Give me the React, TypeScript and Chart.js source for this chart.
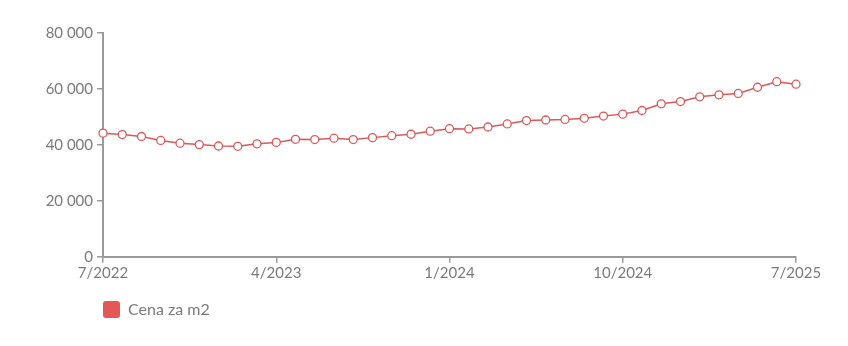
import React, { useEffect, useRef } from "react";
import { Chart, registerables } from "chart.js";

Chart.register(...registerables);

const months: string[] = [
  "7/2022", "8/2022", "9/2022", "10/2022", "11/2022", "12/2022",
  "1/2023", "2/2023", "3/2023", "4/2023", "5/2023", "6/2023",
  "7/2023", "8/2023", "9/2023", "10/2023", "11/2023", "12/2023",
  "1/2024", "2/2024", "3/2024", "4/2024", "5/2024", "6/2024",
  "7/2024", "8/2024", "9/2024", "10/2024", "11/2024", "12/2024",
  "1/2025", "2/2025", "3/2025", "4/2025", "5/2025", "6/2025",
  "7/2025",
];

const pricePerM2: number[] = [
  44200, 43700, 43000, 41600, 40600, 40100,
  39600, 39500, 40400, 40900, 42000, 41900,
  42400, 41900, 42600, 43300, 43800, 44900,
  45800, 45700, 46400, 47500, 48700, 48900,
  49100, 49500, 50300, 51000, 52300, 54700,
  55500, 57200, 57900, 58400, 60600, 62600,
  61700,
];

const seriesLabel = "Cena za m2";
const yTicks: number[] = [0, 20000, 40000, 60000, 80000];

const LINE = "#d9595a";
const AXIS = "#9a9a9a";
const TEXT = "#7a7a7a";
const FONT = "Lato, 'Open Sans', sans-serif";

function fmt(v: number): string {
  return String(Math.round(v)).replace(/\B(?=(\d{3})+(?!\d))/g, " ");
}

export default function App() {
  const ref = useRef<HTMLCanvasElement | null>(null);
  useEffect(() => {
    if (!ref.current) return;
    const chart = new Chart(ref.current, {
      type: "line",
      data: {
        labels: months,
        datasets: [
          {
            label: seriesLabel,
            data: pricePerM2,
            borderColor: LINE,
            backgroundColor: "#e45757",
            borderWidth: 1.5,
            pointRadius: 4,
            pointBorderWidth: 1.3,
            pointBackgroundColor: "#ffffff",
            pointBorderColor: LINE,
            tension: 0,
          },
        ],
      },
      options: {
        responsive: false,
        animation: false,
        layout: { padding: { top: 25, right: 44, left: 0, bottom: 0 } },
        plugins: {
          tooltip: { enabled: false },
          legend: {
            position: "bottom",
            align: "start",
            fullSize: false,
            title: {
              display: true,
              text: "",
              font: { size: 1 },
              padding: { top: 17, bottom: 0 },
            },
            labels: {
              boxWidth: 17,
              boxHeight: 17,
              useBorderRadius: true,
              borderRadius: 3,
              padding: 0,
              color: TEXT,
              font: { family: FONT, size: 16 },
              generateLabels: () => [
                {
                  text: seriesLabel,
                  fillStyle: "#e45757",
                  strokeStyle: "#e45757",
                  lineWidth: 0,
                  fontColor: TEXT,
                  borderRadius: 3,
                  datasetIndex: 0,
                } as any,
              ],
            },
          },
        },
        scales: {
          x: {
            type: "category",
            offset: false,
            border: { display: true, color: AXIS, width: 2 },
            grid: {
              drawOnChartArea: false,
              drawTicks: true,
              tickLength: 6,
              lineWidth: 1.5,
              color: (ctx: any) => (ctx.index % 9 === 0 ? AXIS : "rgba(0,0,0,0)"),
            },
            ticks: {
              autoSkip: false,
              maxRotation: 0,
              color: TEXT,
              padding: 1,
              font: { family: FONT, size: 15 },
              callback: (_v: any, i: number) => (i % 9 === 0 ? months[i] : ""),
            },
          },
          y: {
            min: 0,
            max: 80000,
            afterFit: (s: any) => {
              s.width = 95;
            },
            afterBuildTicks: (s: any) => {
              s.ticks = yTicks.map((v) => ({ value: v }));
            },
            border: { display: true, color: AXIS, width: 2 },
            grid: {
              drawOnChartArea: false,
              drawTicks: true,
              tickLength: 6,
              lineWidth: 1.5,
              color: AXIS,
            },
            ticks: {
              color: TEXT,
              padding: 4,
              font: { family: FONT, size: 15 },
              callback: (v: any) => fmt(Number(v)),
            },
          },
        },
      },
    });
    return () => chart.destroy();
  }, []);
  return <canvas ref={ref} width={832} height={320} />;
}
